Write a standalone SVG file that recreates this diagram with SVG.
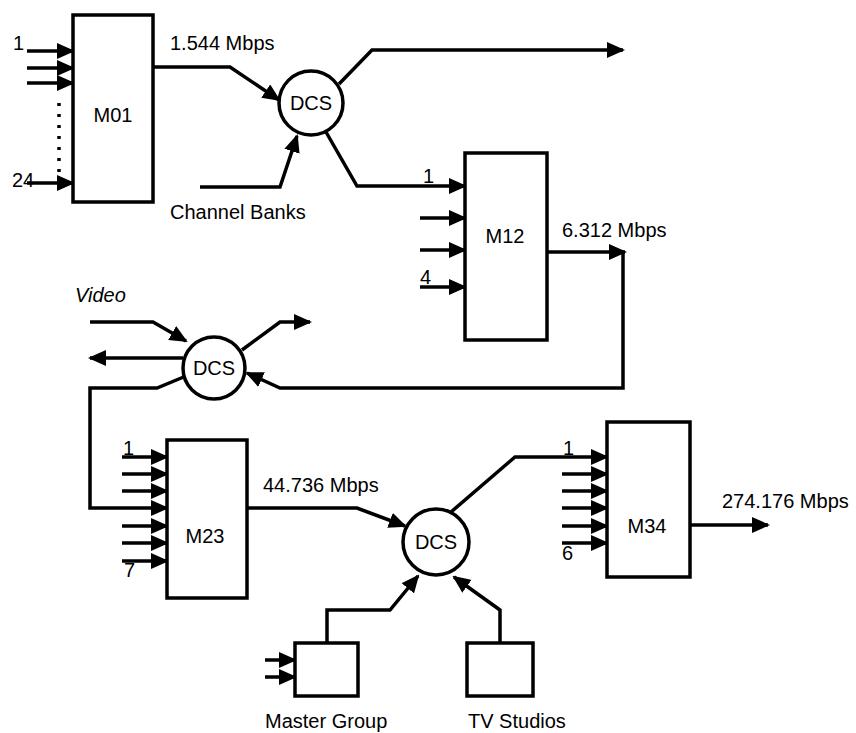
<svg xmlns="http://www.w3.org/2000/svg" width="856" height="733" viewBox="0 0 856 733">
<style>
.box{fill:#fff;stroke:#000;stroke-width:3.5}
.c{fill:#fff;stroke:#000;stroke-width:3.5}
.ln{fill:none;stroke:#000;stroke-width:3.5;stroke-linejoin:miter}
.ar{marker-end:url(#ah)}
text{font-family:"Liberation Sans",Arial,sans-serif;font-size:20px;fill:#000}
.mid{text-anchor:middle}
</style>
<defs>
<marker id="ah" viewBox="0 0 18 16" refX="16" refY="8" markerWidth="18" markerHeight="16" markerUnits="userSpaceOnUse" orient="auto">
<path d="M0,0 L18,8 L0,16 z" fill="#000"/>
</marker>
</defs>
<rect width="856" height="733" fill="#fff"/>
<g id="connectors">
<path class="ln ar" d="M27,51 H73"/>
<path class="ln ar" d="M27,68 H73"/>
<path class="ln ar" d="M27,83 H73"/>
<path class="ln ar" d="M27,183 H73"/>
<path class="ln" d="M59,103 V172" stroke-dasharray="3 8"/>
<path class="ln ar" d="M153,67 H230 L279,100"/>
<path class="ln ar" d="M200,187 H280 L297,136"/>
<path class="ln ar" d="M339,84 L372,50 H623"/>
<path class="ln ar" d="M326,132 L357,186 H465"/>
<path class="ln ar" d="M420,218 H465"/>
<path class="ln ar" d="M420,250 H465"/>
<path class="ln ar" d="M420,287 H465"/>
<path class="ln ar" d="M547,252 H625"/>
<path class="ln ar" d="M623,252 V388 H280 L247,373"/>
<path class="ln ar" d="M90,322 H153 L186,341"/>
<path class="ln ar" d="M183,358 H90"/>
<path class="ln ar" d="M242,350 L280,322 H310"/>
<path class="ln ar" d="M186,376 L157,388 H90 V508 H167"/>
<path class="ln ar" d="M122,457 H167"/>
<path class="ln ar" d="M122,474 H167"/>
<path class="ln ar" d="M122,491 H167"/>
<path class="ln ar" d="M122,526 H167"/>
<path class="ln ar" d="M122,543 H167"/>
<path class="ln ar" d="M122,561 H167"/>
<path class="ln ar" d="M247,508 H357 L405,526"/>
<path class="ln ar" d="M451,512 L515,457 H607"/>
<path class="ln ar" d="M562,474 H607"/>
<path class="ln ar" d="M562,491 H607"/>
<path class="ln ar" d="M562,508 H607"/>
<path class="ln ar" d="M562,526 H607"/>
<path class="ln ar" d="M562,543 H607"/>
<path class="ln ar" d="M690,525 H768"/>
<path class="ln ar" d="M265,660 H295"/>
<path class="ln ar" d="M265,677 H295"/>
<path class="ln ar" d="M327,643 V610 H390 L418,576"/>
<path class="ln ar" d="M500,643 V610 L454,577"/>
</g>
<g id="M01">
<rect class="box" x="73" y="15" width="80" height="187"/>
<text class="mid" x="113" y="122">M01</text>
<text x="13" y="50">1</text>
<text x="12" y="187">24</text>
</g>
<g id="DCS1">
<circle class="c" cx="311" cy="103" r="32"/>
<text class="mid" x="311" y="110">DCS</text>
</g>
<g id="M12">
<rect class="box" x="465" y="153" width="82" height="187"/>
<text class="mid" x="505" y="243">M12</text>
<text x="423" y="183">1</text>
<text x="420" y="284">4</text>
</g>
<g id="DCS2">
<circle class="c" cx="214" cy="368" r="31"/>
<text class="mid" x="214" y="375">DCS</text>
</g>
<g id="M23">
<rect class="box" x="167" y="440" width="80" height="158"/>
<text class="mid" x="205" y="543">M23</text>
<text x="123" y="455">1</text>
<text x="124" y="577">7</text>
</g>
<g id="DCS3">
<circle class="c" cx="436" cy="542" r="33"/>
<text class="mid" x="436" y="549">DCS</text>
</g>
<g id="M34">
<rect class="box" x="607" y="422" width="83" height="155"/>
<text class="mid" x="647" y="533">M34</text>
<text x="563" y="455">1</text>
<text x="562" y="560">6</text>
</g>
<g id="MasterGroup">
<rect class="box" x="295" y="643" width="63" height="53"/>
<text x="265" y="728">Master Group</text>
</g>
<g id="TVStudios">
<rect class="box" x="467" y="643" width="66" height="53"/>
<text x="468" y="728">TV Studios</text>
</g>
<g id="labels">
<text x="170" y="50">1.544 Mbps</text>
<text x="170" y="219">Channel Banks</text>
<text x="562" y="237">6.312 Mbps</text>
<text x="75" y="302" font-style="italic">Video</text>
<text x="263" y="492">44.736 Mbps</text>
<text x="722" y="508">274.176 Mbps</text>
</g>
</svg>
